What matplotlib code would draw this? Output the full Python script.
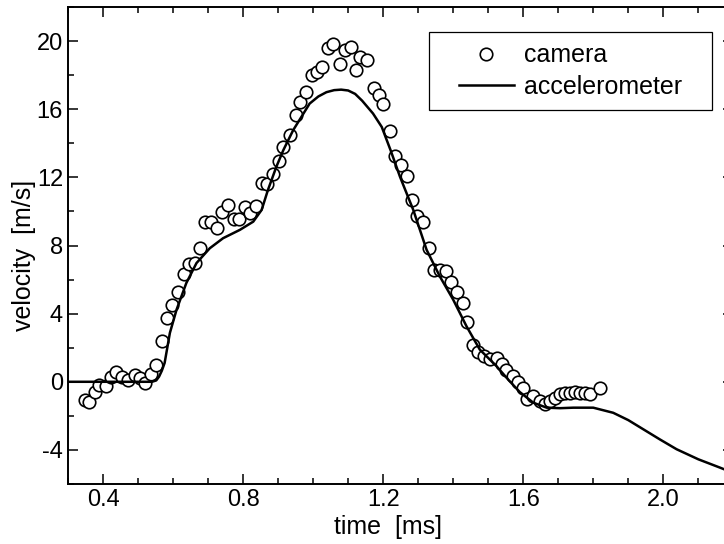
import matplotlib
matplotlib.use('Agg')
import matplotlib.pyplot as plt
from matplotlib.ticker import MultipleLocator
from matplotlib.path import Path

# camera (high speed video) velocity
t_cam = [0.348, 0.360, 0.376, 0.389, 0.408, 0.422, 0.438, 0.455, 0.471, 0.491,
         0.505, 0.521, 0.538, 0.551, 0.568, 0.582, 0.598, 0.615, 0.630, 0.646,
         0.662, 0.676, 0.692, 0.708, 0.726, 0.739, 0.758, 0.773, 0.789, 0.805,
         0.819, 0.837, 0.853, 0.867, 0.885, 0.903, 0.914, 0.933, 0.950, 0.963,
         0.979, 0.997, 1.010, 1.025, 1.043, 1.058, 1.076, 1.091, 1.108, 1.123,
         1.135, 1.155, 1.174, 1.187, 1.200, 1.220, 1.235, 1.252, 1.267, 1.283,
         1.298, 1.314, 1.331, 1.345, 1.361, 1.379, 1.393, 1.410, 1.427, 1.439,
         1.456, 1.470, 1.487, 1.505, 1.524, 1.538, 1.551, 1.571, 1.586, 1.600,
         1.610, 1.629, 1.648, 1.662, 1.676, 1.691, 1.705, 1.719, 1.733, 1.748,
         1.762, 1.776, 1.791, 1.819]
v_cam = [-1.08, -1.19, -0.61, -0.16, -0.22, 0.29, 0.56, 0.29, 0.13, 0.37,
         0.23, -0.10, 0.43, 1.01, 2.40, 3.72, 4.53, 5.30, 6.31, 6.93,
         6.97, 7.87, 9.37, 9.40, 9.05, 9.95, 10.40, 9.57, 9.57, 10.24,
         9.93, 10.30, 11.69, 11.62, 12.20, 12.97, 13.80, 14.49, 15.66, 16.45,
         17.00, 17.99, 18.19, 18.45, 19.62, 19.85, 18.68, 19.50, 19.67, 18.28,
         19.06, 18.90, 17.25, 16.82, 16.33, 14.70, 13.26, 12.72, 12.10, 10.70,
         9.72, 9.40, 7.86, 6.54, 6.57, 6.48, 5.83, 5.30, 4.60, 3.49,
         2.18, 1.75, 1.50, 1.35, 1.38, 1.03, 0.72, 0.33, -0.02, -0.35,
         -1.00, -0.84, -1.14, -1.33, -1.14, -0.94, -0.74, -0.64, -0.64, -0.61,
         -0.64, -0.64, -0.74, -0.35]

# accelerometer (integrated) velocity
t_acc = [0.300, 0.540, 0.552, 0.560, 0.568, 0.576, 0.591, 0.610, 0.638, 0.667,
         0.705, 0.743, 0.791, 0.829, 0.853, 0.871, 0.895, 0.915, 0.943, 0.962,
         0.990, 1.015, 1.038, 1.060, 1.080, 1.100, 1.120, 1.140, 1.171, 1.196,
         1.222, 1.248, 1.286, 1.324, 1.362, 1.400, 1.438, 1.476, 1.524, 1.557,
         1.590, 1.629, 1.667, 1.705, 1.743, 1.800, 1.857, 1.900, 1.943, 1.990,
         2.038, 2.100, 2.162, 2.200]
v_acc = [0.00, 0.00, 0.08, 0.30, 0.65, 1.11, 2.87, 4.23, 5.80, 6.97,
         7.84, 8.43, 8.92, 9.40, 10.09, 11.26, 12.62, 13.60, 14.77, 15.40,
         16.33, 16.75, 17.00, 17.12, 17.15, 17.10, 16.90, 16.50, 15.75, 14.96,
         13.55, 12.04, 10.09, 7.75, 6.18, 4.82, 3.26, 1.89, 0.91, 0.13,
         -0.60, -1.23, -1.52, -1.55, -1.52, -1.52, -1.82, -2.25, -2.79, -3.38,
         -3.96, -4.55, -5.04, -5.35]

plt.rcParams['font.family'] = ['Liberation Sans', 'DejaVu Sans']
plt.rcParams['axes.unicode_minus'] = False


def wide_box(x0, y0, width, height, mutation_size):
    # legend frame with extra room left and right
    px = 0.75 * mutation_size
    return Path([(x0 - px, y0), (x0 + width + px, y0), (x0 + width + px, y0 + height),
                 (x0 - px, y0 + height), (x0 - px, y0)], closed=True)


def main():
    fig = plt.figure(figsize=(7.24, 5.44), dpi=100)
    ax = fig.add_axes([0.0939, 0.1103, 0.919, 0.8768])

    ax.plot(t_cam, v_cam, 'o', ms=9, mfc='white', mec='black', mew=1.2,
            label='camera', zorder=2)
    ax.plot(t_acc, v_acc, '-', color='black', lw=1.8, label='accelerometer', zorder=3)

    ax.set_xlim(0.3, 2.2)
    ax.set_ylim(-6, 22)
    ax.xaxis.set_major_locator(MultipleLocator(0.4))
    ax.xaxis.set_minor_locator(MultipleLocator(0.1))
    ax.yaxis.set_major_locator(MultipleLocator(4))
    ax.yaxis.set_minor_locator(MultipleLocator(2))
    ax.xaxis.set_major_formatter(matplotlib.ticker.FormatStrFormatter('%.1f'))
    ax.yaxis.set_major_formatter(matplotlib.ticker.FormatStrFormatter('%d'))

    ax.tick_params(which='both', direction='in', top=True, right=True, width=1.1,
                   labelsize=17, pad=3.5)
    ax.tick_params(which='major', length=7)
    ax.tick_params(which='minor', length=4)
    for sp in ax.spines.values():
        sp.set_linewidth(1.4)

    ax.set_xlabel('time  [ms]', fontsize=18)
    ax.xaxis.set_label_coords(0.481, -0.065)
    ax.set_ylabel('velocity  [m/s]', fontsize=18)
    ax.yaxis.set_label_coords(-0.048, 0.48)

    leg = ax.legend(loc='upper right', bbox_to_anchor=(0.9398, 0.9476), borderaxespad=0,
                    fontsize=18, labelspacing=0.3, borderpad=0.45, handlelength=2.2,
                    handletextpad=0.4, fancybox=False, framealpha=1, edgecolor='black')
    leg.get_frame().set_linewidth(0.9)
    leg.get_frame().set_boxstyle(wide_box)

    fig.savefig('out.png', dpi=100)
    plt.close(fig)
    return 0


if __name__ == "__main__":
    main()
